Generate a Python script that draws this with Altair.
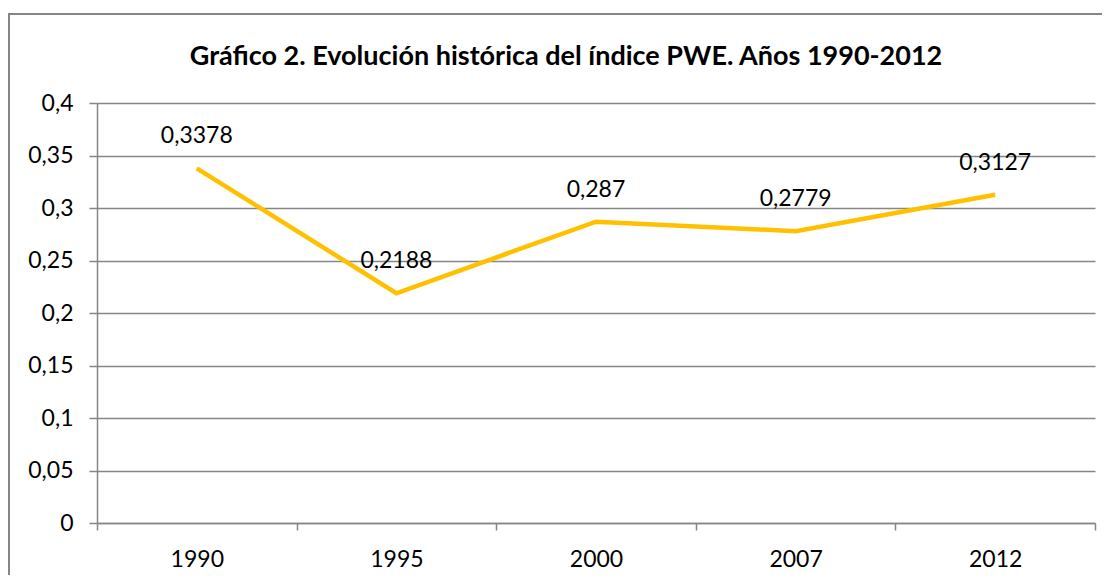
import altair as alt
import pandas as pd

years = ["1990", "1995", "2000", "2007", "2012"]
pwe = [0.3378, 0.2188, 0.287, 0.2779, 0.3127]
y_ticks = [0, 0.05, 0.1, 0.15, 0.2, 0.25, 0.3, 0.35, 0.4]
title_text = "Gráfico 2. Evolución histórica del índice PWE. Años 1990-2012"

df = pd.DataFrame({"year": years, "pwe": pwe})

W, H = 998, 420
FONT = "Lato"
GRAY = "#868686"

base = alt.Chart(df).transform_calculate(
    lab="replace(format(datum.pwe, '.4~f'), '.', ',')"
)

x_enc = alt.X(
    "year:N",
    sort=years,
    bandPosition=0.5,
    scale=alt.Scale(type="band", paddingInner=0, paddingOuter=0),
    axis=alt.Axis(
        title=None, tickBand="extent", labelAngle=0, grid=False,
        domainColor=GRAY, domainWidth=1.5, tickColor=GRAY, tickWidth=1.5,
        tickSize=7, labelPadding=18, labelFontSize=23, labelFont=FONT,
        labelColor="black",
    ),
)
y_enc = alt.Y(
    "pwe:Q",
    scale=alt.Scale(domain=[0, 0.4], nice=False, zero=True),
    axis=alt.Axis(
        title=None, values=y_ticks, grid=True, gridColor=GRAY, gridWidth=1.5,
        domain=True, domainColor=GRAY, domainWidth=1.5,
        tickColor=GRAY, tickWidth=1.5, tickSize=8, labelPadding=16,
        labelFontSize=23, labelFont=FONT, labelColor="black",
        labelExpr="replace(format(datum.value, '.2~f'), '.', ',')",
    ),
)

line = base.mark_line(color="#FFC000", strokeWidth=4.5).encode(x=x_enc, y=y_enc)
labels = base.mark_text(
    dy=-32, fontSize=23, font=FONT, color="black", align="center", baseline="middle"
).encode(x=alt.X("year:N", sort=years, bandPosition=0.5), y="pwe:Q", text="lab:N")

border = base.mark_rect(filled=False, stroke=GRAY, strokeWidth=2).encode(
    x=alt.value(-88), x2=alt.value(W + 200), y=alt.value(-89), y2=alt.value(H + 200)
)

chart = alt.layer(line, labels, border).properties(
    width=W, height=H,
    title=alt.TitleParams(
        title_text, font=FONT, fontSize=27, fontWeight="bold", color="black",
        anchor="middle", dx=-30, offset=-71, baseline="middle",
    ),
    autosize=alt.AutoSizeParams(type="none"),
    padding={"left": 89, "top": 95, "right": 7, "bottom": 52},
).configure_view(strokeWidth=0)

chart.save("out.html", embed_options={"renderer": "svg", "actions": False})
